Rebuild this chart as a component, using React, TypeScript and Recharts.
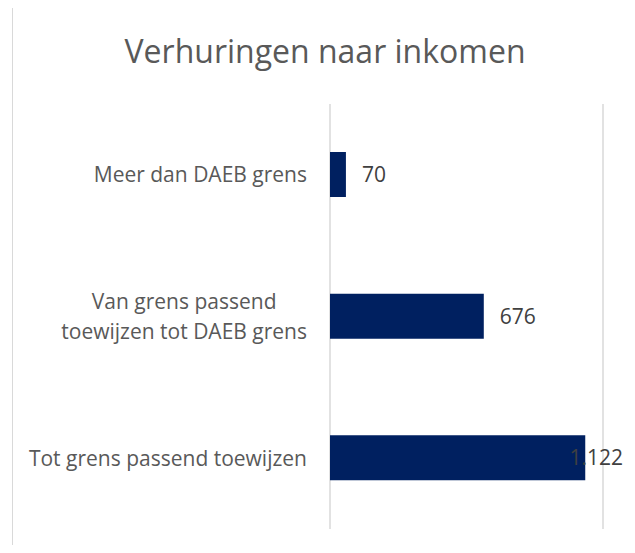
import React from "react";
import { BarChart, Bar, XAxis, YAxis, CartesianGrid, LabelList } from "recharts";

// top to bottom, as in the picture
const categories = [
  "Meer dan DAEB grens",
  "Van grens passend\ntoewijzen tot DAEB grens",
  "Tot grens passend toewijzen",
];
const values = [70, 676, 1122];
const xTicks = [0, 400, 800, 1200];

const data = categories.map((name, i) => ({ name, value: values[i] }));

const FONT = "'Open Sans', sans-serif";
const GRID = "#d9d9d9";

let ctx: CanvasRenderingContext2D | null = null;
function textWidth(s: string, size: number) {
  if (!ctx) ctx = document.createElement("canvas").getContext("2d");
  if (!ctx) return s.length * size * 0.5;
  ctx.font = `${size}px 'Open Sans'`;
  return ctx.measureText(s).width;
}

// Dutch thousands separator
const fmt = (v: number) => String(v).replace(/\B(?=(\d{3})+(?!\d))/g, ".");

function CategoryTick(props: any) {
  const { x, y, payload } = props;
  const lines: string[] = String(payload.value).split("\n");
  const w = Math.max(...lines.map((l) => textWidth(l, 21)));
  const cx = x - w / 2;
  const lh = 30;
  const first = -((lines.length - 1) * lh) / 2;
  return (
    <text textAnchor="middle" fill="#595959" fontSize={21} fontFamily={FONT}>
      {lines.map((l, i) => (
        <tspan key={i} x={cx} y={y + first + i * lh} dy="0.36em">
          {l}
        </tspan>
      ))}
    </text>
  );
}

function ValueLabel(props: any) {
  const { x, y, width, height, value } = props;
  const s = fmt(value);
  const w = textWidth(s, 21);
  const tx = Math.min(x + width + 16, 623 - w);
  return (
    <text x={tx} y={y + height / 2} dy="0.36em" fill="#404040" fontSize={21} fontFamily={FONT}>
      {s}
    </text>
  );
}

export default function App() {
  return (
    <div style={{ position: "relative", width: 635, height: 553, margin: -8, overflow: "hidden", background: "#fff" }}>
      <div
        style={{
          position: "absolute",
          left: 12,
          top: 4,
          width: 618,
          height: 600,
          border: `1.5px solid ${GRID}`,
          boxSizing: "border-box",
        }}
      />
      <div
        style={{
          position: "absolute",
          left: 0,
          width: 650,
          top: 35,
          textAlign: "center",
          fontFamily: FONT,
          fontSize: 32,
          lineHeight: 1,
          color: "#595959",
        }}
      >
        Verhuringen naar inkomen
      </div>
      <div style={{ position: "absolute", left: 0, top: 0 }}>
        <BarChart
          width={635}
          height={553}
          data={data}
          layout="vertical"
          margin={{ top: 104, right: 32, bottom: 24, left: 0 }}
        >
          <CartesianGrid horizontal={false} stroke={GRID} strokeWidth={1.5} />
          <XAxis
            type="number"
            domain={[0, 1200]}
            ticks={xTicks}
            axisLine={false}
            tickLine={false}
            tick={false}
            height={0}
          />
          <YAxis
            type="category"
            dataKey="name"
            width={330}
            axisLine={false}
            tickLine={false}
            tickSize={0}
            tickMargin={23}
            tick={<CategoryTick />}
            interval={0}
          />
          <Bar dataKey="value" fill="#002060" barSize={45} isAnimationActive={false}>
            <LabelList dataKey="value" content={<ValueLabel />} />
          </Bar>
        </BarChart>
      </div>
    </div>
  );
}
